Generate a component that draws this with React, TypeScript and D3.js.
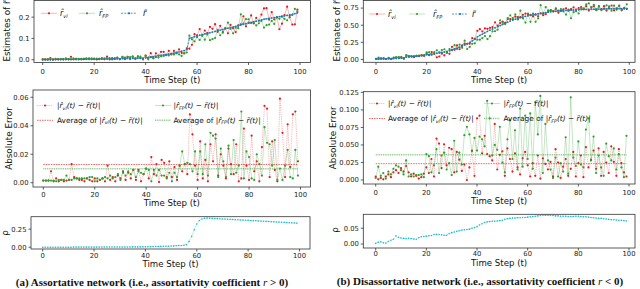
import React from 'react';
import * as d3 from 'd3';

// ---------- data ----------
const steps = d3.range(100);
const xTicks = [0, 20, 40, 60, 80, 100];

// (a) assortative network
const trueA = [0.000,0.000,0.000,0.000,0.000,0.001,0.001,0.001,0.001,0.001,
0.001,0.001,0.001,0.001,0.001,0.001,0.002,0.002,0.002,0.002,
0.002,0.002,0.002,0.003,0.003,0.003,0.003,0.004,0.004,0.004,
0.005,0.005,0.005,0.006,0.006,0.006,0.007,0.007,0.008,0.008,
0.009,0.011,0.013,0.015,0.017,0.019,0.021,0.023,0.025,0.027,
0.029,0.031,0.034,0.037,0.040,0.043,0.048,0.100,0.104,0.108,
0.112,0.115,0.118,0.121,0.124,0.127,0.130,0.133,0.136,0.139,
0.142,0.145,0.148,0.151,0.154,0.157,0.160,0.163,0.166,0.169,
0.172,0.175,0.178,0.181,0.184,0.187,0.190,0.192,0.194,0.196,
0.198,0.200,0.202,0.204,0.206,0.208,0.210,0.213,0.216,0.220];
const vlA = [0.002,0.002,0.002,0.008,0.001,0.004,0.002,0.003,0.002,0.003,
0.003,0.014,0.005,0.004,0.003,0.003,0.003,0.005,0.004,0.003,
0.005,0.001,0.004,0.006,0.002,0.015,0.001,0.008,0.003,0.009,
0.002,0.013,0.003,0.013,0.003,0.015,0.005,0.016,0.007,0.002,
0.019,0.008,0.031,0.009,0.030,0.019,0.037,0.037,0.021,0.042,
0.025,0.042,0.032,0.049,0.032,0.030,0.054,0.052,0.070,0.120,
0.114,0.144,0.115,0.137,0.125,0.154,0.145,0.167,0.131,0.159,
0.130,0.148,0.124,0.164,0.148,0.130,0.161,0.166,0.204,0.157,
0.174,0.208,0.170,0.196,0.183,0.212,0.241,0.242,0.188,0.223,
0.189,0.199,0.143,0.169,0.210,0.249,0.199,0.165,0.166,0.235];
const fpA = [0.002,0.002,0.002,0.002,0.002,0.002,0.003,0.003,0.003,0.006,
0.003,0.003,0.004,0.004,0.004,0.004,0.005,0.005,0.006,0.006,
0.003,0.005,0.004,0.006,0.007,0.006,0.008,0.001,0.008,0.010,
0.003,0.012,0.010,0.014,0.012,0.015,0.003,0.015,0.015,0.002,
0.019,0.002,0.012,0.006,0.012,0.010,0.016,0.018,0.022,0.020,
0.028,0.024,0.030,0.025,0.018,0.030,0.034,0.113,0.096,0.086,
0.106,0.093,0.112,0.094,0.119,0.092,0.097,0.102,0.140,0.115,
0.127,0.149,0.174,0.145,0.124,0.150,0.148,0.213,0.169,0.191,
0.190,0.172,0.176,0.161,0.171,0.182,0.151,0.162,0.165,0.182,
0.168,0.198,0.192,0.202,0.192,0.185,0.206,0.210,0.239,0.225];
const errVlA = [0.0015,0.0015,0.0015,0.008,0.001,0.003,0.001,0.002,0.001,0.0015,
0.002,0.013,0.004,0.003,0.002,0.002,0.001,0.003,0.002,0.001,
0.003,0.001,0.002,0.003,0.001,0.012,0.002,0.004,0.001,0.005,
0.003,0.008,0.002,0.007,0.003,0.009,0.002,0.009,0.001,0.006,
0.010,0.003,0.018,0.006,0.013,0.0005,0.016,0.014,0.004,0.015,
0.004,0.011,0.002,0.012,0.008,0.013,0.006,0.048,0.034,0.012,
0.002,0.029,0.003,0.016,0.001,0.027,0.015,0.034,0.005,0.020,
0.012,0.003,0.024,0.013,0.006,0.027,0.001,0.003,0.038,0.012,
0.002,0.033,0.008,0.015,0.001,0.025,0.054,0.052,0.004,0.029,
0.009,0.001,0.059,0.035,0.004,0.041,0.011,0.048,0.050,0.015];
const errFpA = [0.0015,0.0015,0.0015,0.0015,0.0015,0.001,0.002,0.002,0.002,0.005,
0.002,0.002,0.003,0.003,0.003,0.003,0.003,0.003,0.004,0.004,
0.001,0.003,0.002,0.003,0.004,0.003,0.005,0.003,0.004,0.006,
0.002,0.007,0.005,0.008,0.006,0.009,0.004,0.008,0.007,0.006,
0.010,0.009,0.001,0.009,0.005,0.009,0.005,0.005,0.003,0.007,
0.001,0.007,0.004,0.012,0.022,0.013,0.014,0.013,0.008,0.022,
0.006,0.022,0.006,0.027,0.005,0.035,0.033,0.031,0.004,0.024,
0.015,0.004,0.026,0.006,0.030,0.007,0.012,0.050,0.003,0.022,
0.018,0.003,0.002,0.020,0.013,0.005,0.039,0.028,0.027,0.012,
0.030,0.002,0.010,0.002,0.012,0.023,0.004,0.003,0.023,0.005];
const avgVlA = 0.0128;
const avgFpA = 0.0098;
const rhoA = [0.000,0.000,0.000,0.000,0.000,0.000,0.000,0.000,0.000,0.000,
0.000,0.000,0.001,0.001,0.001,0.001,0.001,0.001,0.001,0.001,
0.001,0.001,0.001,0.002,0.002,0.002,0.002,0.002,0.002,0.002,
0.003,0.003,0.003,0.003,0.003,0.004,0.004,0.004,0.004,0.005,
0.005,0.006,0.007,0.008,0.009,0.010,0.011,0.012,0.013,0.014,
0.016,0.018,0.020,0.022,0.024,0.026,0.035,0.080,0.150,0.240,
0.320,0.370,0.390,0.400,0.402,0.401,0.399,0.397,0.395,0.393,
0.391,0.389,0.387,0.385,0.383,0.381,0.379,0.377,0.375,0.373,
0.371,0.369,0.367,0.365,0.363,0.361,0.359,0.357,0.355,0.353,
0.351,0.349,0.347,0.345,0.343,0.341,0.339,0.337,0.335,0.333];

// (b) disassortative network
const trueB = [0.005,0.008,0.010,0.010,0.008,0.010,0.012,0.012,0.013,0.015,
0.018,0.022,0.035,0.037,0.040,0.042,0.045,0.050,0.055,0.060,
0.068,0.072,0.078,0.085,0.090,0.095,0.102,0.110,0.118,0.128,
0.140,0.152,0.165,0.178,0.192,0.210,0.228,0.248,0.270,0.295,
0.330,0.350,0.370,0.390,0.410,0.428,0.445,0.462,0.478,0.495,
0.512,0.528,0.545,0.560,0.575,0.588,0.600,0.610,0.620,0.630,
0.638,0.645,0.652,0.660,0.666,0.672,0.678,0.684,0.690,0.696,
0.700,0.704,0.708,0.711,0.714,0.716,0.718,0.720,0.722,0.724,
0.726,0.728,0.730,0.731,0.732,0.733,0.734,0.735,0.736,0.737,
0.738,0.739,0.740,0.740,0.741,0.741,0.742,0.742,0.742,0.743];
const vlB = [0.010,0.009,0.013,0.011,0.003,0.018,0.008,0.023,0.027,0.025,
0.035,0.010,0.055,0.048,0.045,0.033,0.051,0.048,0.059,0.051,
0.086,0.062,0.108,0.080,0.031,0.043,0.085,0.059,0.097,0.082,
0.184,0.141,0.205,0.149,0.205,0.232,0.228,0.230,0.312,0.301,
0.418,0.442,0.408,0.453,0.447,0.462,0.473,0.542,0.493,0.531,
0.553,0.534,0.590,0.590,0.587,0.626,0.618,0.618,0.651,0.670,
0.659,0.650,0.628,0.654,0.631,0.674,0.647,0.661,0.705,0.722,
0.705,0.748,0.683,0.708,0.733,0.746,0.712,0.736,0.762,0.729,
0.750,0.763,0.734,0.778,0.714,0.762,0.776,0.719,0.781,0.731,
0.778,0.714,0.750,0.788,0.715,0.747,0.786,0.718,0.753,0.738];
const fpB = [0.008,0.027,0.016,0.020,0.006,0.022,0.004,0.028,0.034,0.034,
0.032,0.014,0.063,0.042,0.048,0.047,0.052,0.057,0.063,0.064,
0.105,0.106,0.067,0.106,0.134,0.105,0.137,0.149,0.103,0.152,
0.133,0.208,0.153,0.217,0.170,0.274,0.152,0.183,0.229,0.235,
0.288,0.288,0.312,0.342,0.297,0.340,0.410,0.412,0.435,0.571,
0.537,0.517,0.603,0.645,0.605,0.659,0.585,0.712,0.601,0.538,
0.668,0.550,0.668,0.549,0.601,0.792,0.668,0.764,0.718,0.711,
0.703,0.736,0.713,0.735,0.702,0.655,0.727,0.602,0.690,0.704,
0.671,0.750,0.748,0.803,0.820,0.761,0.796,0.725,0.771,0.719,
0.744,0.791,0.774,0.712,0.786,0.726,0.779,0.724,0.746,0.806];
const errVlB = [0.005,0.001,0.003,0.001,0.005,0.008,0.004,0.011,0.014,0.010,
0.017,0.012,0.020,0.011,0.005,0.009,0.006,0.002,0.004,0.009,
0.018,0.010,0.030,0.005,0.059,0.052,0.017,0.051,0.021,0.046,
0.044,0.011,0.040,0.029,0.013,0.022,0.000,0.018,0.042,0.006,
0.088,0.092,0.038,0.063,0.037,0.034,0.028,0.080,0.015,0.036,
0.041,0.006,0.045,0.030,0.012,0.038,0.018,0.008,0.031,0.040,
0.021,0.005,0.024,0.006,0.035,0.002,0.031,0.023,0.015,0.026,
0.005,0.044,0.025,0.003,0.019,0.030,0.006,0.016,0.040,0.005,
0.024,0.035,0.004,0.047,0.018,0.029,0.042,0.016,0.045,0.006,
0.040,0.025,0.010,0.048,0.026,0.006,0.044,0.024,0.011,0.005];
const errFpB = [0.003,0.019,0.006,0.010,0.002,0.012,0.008,0.016,0.021,0.019,
0.014,0.008,0.028,0.005,0.008,0.005,0.007,0.007,0.008,0.004,
0.037,0.034,0.011,0.021,0.044,0.010,0.035,0.039,0.015,0.024,
0.007,0.056,0.012,0.039,0.022,0.064,0.076,0.065,0.041,0.060,
0.042,0.062,0.058,0.048,0.113,0.088,0.035,0.050,0.043,0.076,
0.025,0.011,0.058,0.085,0.030,0.071,0.015,0.102,0.019,0.092,
0.030,0.095,0.016,0.111,0.065,0.120,0.010,0.080,0.028,0.015,
0.003,0.032,0.005,0.024,0.012,0.061,0.009,0.118,0.032,0.020,
0.055,0.022,0.018,0.072,0.088,0.028,0.062,0.010,0.035,0.018,
0.006,0.052,0.034,0.028,0.045,0.015,0.037,0.018,0.004,0.063];
const avgVlB = 0.0233;
const avgFpB = 0.0361;
const rhoB = [0.002,0.006,0.007,0.004,0.003,0.008,0.012,0.015,0.026,0.021,
0.019,0.018,0.017,0.018,0.017,0.016,0.015,0.020,0.023,0.024,
0.025,0.026,0.027,0.030,0.031,0.030,0.029,0.028,0.028,0.033,
0.036,0.038,0.040,0.042,0.044,0.045,0.046,0.047,0.050,0.052,
0.055,0.060,0.064,0.068,0.070,0.071,0.072,0.072,0.073,0.074,
0.075,0.078,0.080,0.081,0.082,0.082,0.083,0.083,0.084,0.084,
0.085,0.086,0.087,0.088,0.089,0.090,0.091,0.091,0.091,0.090,
0.090,0.089,0.089,0.088,0.088,0.088,0.087,0.087,0.087,0.088,
0.088,0.087,0.086,0.086,0.085,0.084,0.083,0.082,0.081,0.081,
0.080,0.079,0.078,0.077,0.077,0.076,0.075,0.075,0.074,0.073];

const yTicksTopA = [0, 0.1, 0.2];
const yTicksMidA = [0, 0.02, 0.04, 0.06];
const yTicksBotA = [0, 0.25];
const yTicksTopB = [0, 0.25, 0.5, 0.75];
const yTicksMidB = [0, 0.025, 0.05, 0.075, 0.1, 0.125];
const yTicksBotB = [0, 0.05];

// ---------- styling ----------
const RED = '#e41a1c';
const GREEN = '#2ca02c';
const BLUE = '#1f77b4';
const CYAN = '#17becf';
const SANS = 'DejaVu Sans, sans-serif';
const AX = '#333';

type Box = { x0: number; x1: number; y0: number; y1: number; t0: number; t100: number; dom: [number, number] };

function Frame({ b, ticks, fmt, ylabel, ylx, yly, xty, xly, children }: any) {
  const x = d3.scaleLinear().domain([0, 100]).range([b.t0, b.t100]);
  const y = d3.scaleLinear().domain(b.dom).range([b.y1, b.y0]);
  return (
    <g>
      {children(x, y)}
      <rect x={b.x0} y={b.y0} width={b.x1 - b.x0} height={b.y1 - b.y0} fill="none" stroke={AX} strokeWidth={0.8} />
      {xTicks.map((t) => (
        <g key={'x' + t}>
          <line x1={x(t)} x2={x(t)} y1={b.y1} y2={b.y1 + 2.5} stroke={AX} strokeWidth={0.8} />
          <text x={x(t)} y={xty} fontSize={6.8} fontFamily={SANS} textAnchor="middle" fill="#222">{t}</text>
        </g>
      ))}
      {ticks.map((t: number) => (
        <g key={'y' + t}>
          <line x1={b.x0 - 2.5} x2={b.x0} y1={y(t)} y2={y(t)} stroke={AX} strokeWidth={0.8} />
          <text x={b.x0 - 4.5} y={y(t) + 2.4} fontSize={6.8} fontFamily={SANS} textAnchor="end" fill="#222">{fmt(t)}</text>
        </g>
      ))}
      <text x={(b.x0 + b.x1) / 2} y={xly} fontSize={8.6} fontFamily={SANS} textAnchor="middle" fill="#111">Time Step (t)</text>
      <text transform={`translate(${ylx},${yly}) rotate(-90)`} fontSize={8.8} fontFamily={SANS} textAnchor="middle" fill="#111">{ylabel}</text>
    </g>
  );
}

function Series({ data, x, y, color, lineOpacity, dash, r, width }: any) {
  const line = d3.line<number>().x((_, i) => x(steps[i])).y((d) => y(d));
  return (
    <g>
      <path d={line(data) || ''} fill="none" stroke={color} strokeOpacity={lineOpacity} strokeWidth={width || 0.9} strokeDasharray={dash} />
      {data.map((d: number, i: number) => (
        <circle key={i} cx={x(steps[i])} cy={y(d)} r={r || 1.1} fill={color} />
      ))}
    </g>
  );
}

function Handle({ x0, x1, yy, color, op, dash, w, marker }: any) {
  return (
    <g>
      <line x1={x0} x2={x1} y1={yy} y2={yy} stroke={color} strokeOpacity={op} strokeWidth={w || 0.9} strokeDasharray={dash} />
      {marker && <circle cx={(x0 + x1) / 2} cy={yy} r={1.1} fill={color} />}
    </g>
  );
}

const R_HAT = 'r\u0302';
const R_TIL = 'r\u0303';

function EstLabel({ x, y, sub }: any) {
  return (
    <text x={x} y={y + 2.5} fontSize={8} fontFamily={SANS} fill="#111">
      <tspan fontStyle="italic">{sub ? R_HAT : R_TIL}</tspan>
      {sub && <tspan fontSize={5} fontStyle="italic" dy={2}>{sub}</tspan>}
    </text>
  );
}

function ErrLabel({ x, y, sub, avg }: any) {
  return (
    <text x={x} y={y + 2.6} fontSize={7.4} fontFamily={SANS} fill="#111">
      {avg && <tspan>Average of </tspan>}
      <tspan>|</tspan>
      <tspan fontStyle="italic">{R_HAT}</tspan>
      <tspan fontSize={4.8} fontStyle="italic" dy={1.5}>{sub}</tspan>
      <tspan dy={-1.5} fontStyle="italic">(t) − {R_TIL}(t)</tspan>
      <tspan>|</tspan>
    </text>
  );
}

const fmt1 = d3.format('.1f');
const fmt2 = d3.format('.2f');
const fmt3 = d3.format('.3f');

export default function App() {
  const bTopA: Box = { x0: 34, x1: 310.5, y0: 0.5, y1: 62.5, t0: 42.7, t100: 300, dom: [-0.013, 0.278] };
  const bMidA: Box = { x0: 33, x1: 310.5, y0: 90, y1: 187, t0: 43.3, t100: 300.5, dom: [-0.003, 0.0651] };
  const bBotA: Box = { x0: 31, x1: 310, y0: 216.7, y1: 249, t0: 42.7, t100: 299.5, dom: [-0.025, 0.422] };
  const bTopB: Box = { x0: 363.3, x1: 635, y0: 0.5, y1: 62.3, t0: 376, t100: 629.3, dom: [-0.042, 0.861] };
  const bMidB: Box = { x0: 363.3, x1: 635, y0: 91.7, y1: 184, t0: 375.7, t100: 629, dom: [-0.0057, 0.126] };
  const bBotB: Box = { x0: 363.3, x1: 635, y0: 214.3, y1: 248, t0: 375.7, t100: 629, dom: [-0.0125, 0.094] };

  const topPanel = (b: Box, vl: number[], fp: number[], tr: number[], ticks: number[], fmt: any, lx: number[], ylx: number, ly: number) => (
    <Frame b={b} ticks={ticks} fmt={fmt} ylabel={`Estimates of ${R_TIL}`} ylx={ylx} yly={31} xty={73.5} xly={82.5}>
      {(x: any, y: any) => (
        <g>
          <Series data={vl} x={x} y={y} color={RED} lineOpacity={0.35} />
          <Series data={fp} x={x} y={y} color={GREEN} lineOpacity={0.35} />
          <Series data={tr} x={x} y={y} color={BLUE} lineOpacity={0.75} dash="2 1.2" width={1.1} r={0.9} />
          <Handle x0={lx[0]} x1={lx[0] + 16} yy={ly} color={RED} op={0.35} marker />
          <EstLabel x={lx[1]} y={ly} sub="vl" />
          <Handle x0={lx[2]} x1={lx[2] + 16} yy={ly} color={GREEN} op={0.35} marker />
          <EstLabel x={lx[3]} y={ly} sub="FP" />
          <Handle x0={lx[4]} x1={lx[4] + 16} yy={ly} color={BLUE} op={0.75} dash="2 1.2" w={1.1} marker />
          <EstLabel x={lx[5]} y={ly} />
        </g>
      )}
    </Frame>
  );

  const midPanel = (b: Box, ev: number[], ef: number[], av: number, af: number, ticks: number[], fmt: any, lg: any, ylx: number, xty: number, xly: number) => (
    <Frame b={b} ticks={ticks} fmt={fmt} ylabel="Absolute Error" ylx={ylx} yly={(b.y0 + b.y1) / 2} xty={xty} xly={xly}>
      {(x: any, y: any) => (
        <g>
          <Series data={ev} x={x} y={y} color={RED} lineOpacity={0.3} dash="1.5 0.8" />
          <Series data={ef} x={x} y={y} color={GREEN} lineOpacity={0.3} />
          <line x1={x(0)} x2={x(99)} y1={y(av)} y2={y(av)} stroke={RED} strokeOpacity={0.75} strokeWidth={0.9} strokeDasharray="1.5 1" />
          <line x1={x(0)} x2={x(99)} y1={y(af)} y2={y(af)} stroke={GREEN} strokeOpacity={0.55} strokeWidth={1.4} strokeDasharray="1 0.8" />
          <Handle x0={lg.rx} x1={lg.rx + 16} yy={lg.y1} color={RED} op={0.3} dash="1.5 0.8" marker />
          <ErrLabel x={lg.rt} y={lg.y1} sub="vl" />
          <Handle x0={lg.rx} x1={lg.rx + 16} yy={lg.y2} color={RED} op={0.75} dash="1.5 1" />
          <ErrLabel x={lg.rt} y={lg.y2} sub="vl" avg />
          <Handle x0={lg.gx} x1={lg.gx + 16} yy={lg.y1} color={GREEN} op={0.3} marker />
          <ErrLabel x={lg.gt} y={lg.y1} sub="FP" />
          <Handle x0={lg.gx} x1={lg.gx + 16} yy={lg.y2} color={GREEN} op={0.55} dash="1 0.8" w={1.4} />
          <ErrLabel x={lg.gt} y={lg.y2} sub="FP" avg />
        </g>
      )}
    </Frame>
  );

  const rhoPanel = (b: Box, rho: number[], ticks: number[], fmt: any, ylx: number, yly: number, xty: number, xly: number) => (
    <Frame b={b} ticks={ticks} fmt={fmt} ylabel="ρ" ylx={ylx} yly={yly} xty={xty} xly={xly}>
      {(x: any, y: any) => (
        <Series data={rho} x={x} y={y} color={CYAN} lineOpacity={0.6} dash="1 1" r={0.8} />
      )}
    </Frame>
  );

  return (
    <svg width={640} height={289} style={{ position: 'absolute', left: 0, top: 0, background: '#fff' }}>
      <rect width={640} height={289} fill="#fff" />
      {topPanel(bTopA, vlA, fpA, trueA, yTicksTopA, fmt1, [41, 60, 79, 99, 121, 143], 10, 13.3)}
      {topPanel(bTopB, vlB, fpB, trueB, yTicksTopB, fmt2, [369, 388, 409, 433, 452, 472], 340, 14)}
      {midPanel(bMidA, errVlA, errFpA, avgVlA, avgFpA, yTicksMidA, fmt2, { y1: 105.5, y2: 120.3, rx: 37, rt: 57, gx: 155, gt: 173.5 }, 12, 196.5, 205.5)}
      {midPanel(bMidB, errVlB, errFpB, avgVlB, avgFpB, yTicksMidB, fmt3, { y1: 103.5, y2: 118.5, rx: 369, rt: 388, gx: 484, gt: 503.5 }, 336, 194.5, 203.5)}
      {rhoPanel(bBotA, rhoA, yTicksBotA, fmt2, 8, 233, 257.8, 266.5)}
      {rhoPanel(bBotB, rhoB, yTicksBotB, fmt2, 338, 230, 256, 266.3)}
      <text x={152} y={285.5} fontSize={11} fontFamily="Liberation Serif, serif" fontWeight="bold" textAnchor="middle" fill="#111">
        (a) Assortative network (i.e., assortativity coefficient <tspan fontStyle="italic" fontWeight="normal">r</tspan> {'>'} 0)
      </text>
      <text x={480} y={285} fontSize={11} fontFamily="Liberation Serif, serif" fontWeight="bold" textAnchor="middle" fill="#111">
        (b) Disassortative network (i.e., assortativity coefficient <tspan fontStyle="italic" fontWeight="normal">r</tspan> {'<'} 0)
      </text>
    </svg>
  );
}
